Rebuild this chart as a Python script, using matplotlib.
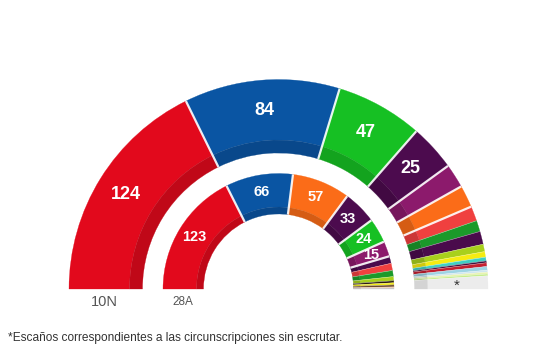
import numpy as np
import matplotlib.pyplot as plt
from matplotlib.patches import Wedge
from matplotlib.colors import to_rgb

# 10N (anillo exterior)
seats_10n = [124, 84, 47, 25, 13, 12, 8, 6, 7, 4, 3, 2, 1, 2, 2, 1, 1, 1, 7]
colors_10n = ['#e2091c', '#0a55a3', '#16c023', '#4c0b4e', '#8c1a6c', '#fb6c18',
              '#f0403f', '#1b9a2a', '#4a0b4c', '#a8d01c', '#f5ec12', '#3fcfc4',
              '#3d0f3f', '#c42030', '#9fd4e4', '#cfe6f0', '#e8f3b0', '#c6ee8e',
              '#ececec']
labels_10n = ['124', '84', '47', '25']

# 28A (anillo interior)
seats_28a = [123, 66, 57, 33, 24, 15, 7, 7, 6, 4, 2, 2, 2, 1, 1]
colors_28a = ['#e2091c', '#0a55a3', '#fb6c18', '#4c0b4e', '#16c023', '#8c1a6c',
              '#4a0b4c', '#f0403f', '#1b9a2a', '#a8d01c', '#2a1a10', '#f5ec12',
              '#6b4a2a', '#f2c0a0', '#c0c0c0']
labels_28a = ['123', '66', '57', '33', '24', '15']

TOTAL = 350
cx, cy = 278.5, 355 - 289


def darker(c, f=0.85):
    r, g, b = to_rgb(c)
    return (r * f, g * f, b * f)


def ring(ax, seats, colors, labels, R, r_mid, r_in, fs):
    deg = 180.0 / TOTAL
    start = 180.0
    for i, (n, c) in enumerate(zip(seats, colors)):
        t2 = start
        t1 = start - n * deg
        ax.add_patch(Wedge((cx, cy), R, t1, t2, width=R - r_mid,
                           facecolor=c, edgecolor=c, lw=0.2))
        dc = '#d4d4d4' if c == '#ececec' else darker(c)
        ax.add_patch(Wedge((cx, cy), r_mid, t1, t2, width=r_mid - r_in,
                           facecolor=dc, edgecolor=dc, lw=0.2))
        if i < len(labels):
            a = np.radians((t1 + t2) / 2)
            rr = (R + r_mid) / 2
            ax.text(cx + rr * np.cos(a), cy + rr * np.sin(a), labels[i],
                    ha='center', va='center', color='white', fontsize=fs,
                    fontweight='bold', family='Liberation Sans')
        start = t1
    # separadores blancos
    start = 180.0
    for n in seats[:-1]:
        start -= n * deg
        a = np.radians(start)
        lw = 1.6 if n >= 10 else 0.35
        ax.plot([cx + r_in * np.cos(a), cx + R * np.cos(a)],
                [cy + r_in * np.sin(a), cy + R * np.sin(a)],
                color='white', lw=lw, alpha=0.9 if n >= 10 else 0.6,
                solid_capstyle='butt')


fig = plt.figure(figsize=(5.59, 3.55), dpi=100)
ax = fig.add_axes([0, 0, 1, 1])
ax.set_xlim(0, 559)
ax.set_ylim(0, 355)
ax.axis('off')

ring(ax, seats_10n, colors_10n, labels_10n, 209.5, 149, 136, 13)
ring(ax, seats_28a, colors_28a, labels_28a, 115.5, 82, 75, 10.5)

# asterisco en la zona gris
ax.text(457, 355 - 286, '*', ha='center', va='center', color='#333333',
        fontsize=11, family='Liberation Sans')

ax.text(104, 355 - 302, '10N', ha='center', va='center', color='#555555',
        fontsize=10.5, family='Liberation Sans')
ax.text(183, 355 - 302, '28A', ha='center', va='center', color='#555555',
        fontsize=8.5, family='Liberation Sans')

ax.text(8, 355 - 338, '*Escaños correspondientes a las circunscripciones sin escrutar.',
        ha='left', va='center', color='#333333', fontsize=8.6,
        family='Liberation Sans')

fig.savefig('out.png', dpi=100)
